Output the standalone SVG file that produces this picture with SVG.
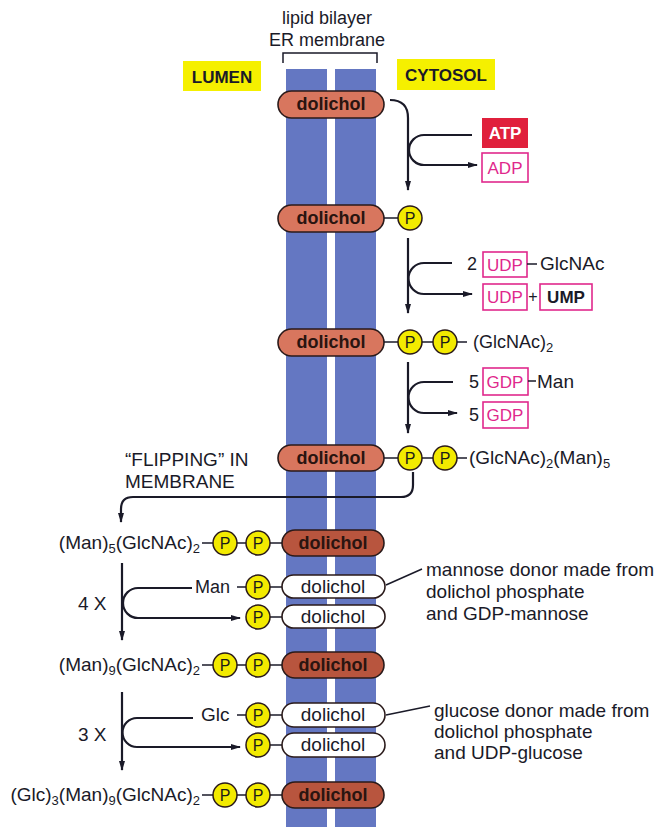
<svg xmlns="http://www.w3.org/2000/svg" width="661" height="827" viewBox="0 0 661 827">
<defs>
<style>
text{font-family:"Liberation Sans",Arial,sans-serif;fill:#1a1a28;font-size:18px}
.l{font-size:19px}
.b{font-weight:bold}
.c{text-anchor:middle}
.e{text-anchor:end}
.sub{font-size:13px}
.dol{fill:#d8765e;stroke:#2a1a1a;stroke-width:1.6}
.dol2{fill:#b8553e;stroke:#2a1a1a;stroke-width:1.6}
.dolw{fill:#ffffff;stroke:#2a1a1a;stroke-width:1.6}
.dt{font-weight:bold;font-size:18px;text-anchor:middle;fill:#2a1410}
.wt{font-size:19px;text-anchor:middle}
.p{fill:#f3ea00;stroke:#2a1a1a;stroke-width:1.5}
.pt{font-size:16px;text-anchor:middle;fill:#1a1a1a}
.ln{stroke:#1a1a28;stroke-width:1.5;fill:none}
.arr{stroke:#1a1a28;stroke-width:2.2;fill:none}
.box{fill:#ffffff;stroke:#e0288c;stroke-width:1.6}
.bt{fill:#e0288c;font-size:17px;text-anchor:middle}
.hl{fill:#f5f000}
.mem{fill:#6477c2}
</style>
<marker id="ah" viewBox="0 0 10 6" refX="9" refY="3" markerWidth="10" markerHeight="6" markerUnits="userSpaceOnUse" orient="auto">
<path d="M0,0 L10,3 L0,6 z" fill="#1a1a28"/>
</marker>
</defs>
<rect width="661" height="827" fill="#ffffff"/>

<g id="membrane">
<rect class="mem" x="286" y="69" width="41" height="758"/>
<rect class="mem" x="335" y="69" width="41" height="758"/>
<path class="ln" d="M283,63 V53 H377 V63"/>
<text class="c" x="327" y="24">lipid bilayer</text>
<text class="c" x="327" y="46">ER membrane</text>
</g>

<g id="lumen">
<rect class="hl" x="183" y="61" width="78" height="30"/>
<text class="b c" x="222" y="83" style="font-size:17px">LUMEN</text>
</g>
<g id="cytosol">
<rect class="hl" x="397" y="59" width="98" height="31"/>
<text class="b c" x="446" y="81" style="font-size:17px">CYTOSOL</text>
</g>

<g id="connectors">
<path class="arr" d="M390,100 Q408,100 408,118 V190" marker-end="url(#ah)"/>
<path class="arr" d="M472,135 H424 A15,15 0 0 0 424,165 H477" marker-end="url(#ah)"/>
<path class="arr" d="M408,238 V313" marker-end="url(#ah)"/>
<path class="arr" d="M452,263 H424 A15.5,15.5 0 0 0 424,294 H472" marker-end="url(#ah)"/>
<path class="arr" d="M408,362 V433" marker-end="url(#ah)"/>
<path class="arr" d="M453,382 H424 A15.5,15.5 0 0 0 424,413 H457" marker-end="url(#ah)"/>
<path class="arr" d="M413,472 V485 Q413,497 401,497 H133 Q121,497 121,509 V522" marker-end="url(#ah)"/>
<path class="arr" d="M122,563 V640" marker-end="url(#ah)"/>
<path class="arr" d="M192,588 H138 A15,15 0 0 0 138,618 H240" marker-end="url(#ah)"/>
<path class="arr" d="M122,692 V770" marker-end="url(#ah)"/>
<path class="arr" d="M193,718 H137 A14.5,14.5 0 0 0 137,747 H240" marker-end="url(#ah)"/>
<path class="ln" d="M386,585 L422,569"/>
<path class="ln" d="M386,715 L430,706"/>
</g>

<g id="atp">
<rect x="482" y="118" width="46" height="30" fill="#e0203c"/>
<text class="b c" x="505" y="139" style="font-size:17px;fill:#ffffff">ATP</text>
</g>
<g id="adp">
<rect class="box" x="482" y="153" width="46" height="29"/>
<text class="bt" x="505" y="174">ADP</text>
</g>

<g id="udp-glcnac">
<text x="467" y="270">2</text>
<rect class="box" x="483" y="252" width="44" height="25"/>
<text class="bt" x="505" y="271">UDP</text>
<line class="ln" x1="527" y1="264" x2="537" y2="264"/>
<text class="l" x="540" y="270">GlcNAc</text>
</g>
<g id="udp-ump">
<rect class="box" x="483" y="284" width="44" height="26"/>
<text class="bt" x="505" y="303">UDP</text>
<text class="c" x="533" y="302" style="font-size:16px">+</text>
<rect class="box" x="540" y="284" width="52" height="26"/>
<text class="b c" x="566" y="303" style="font-size:17px">UMP</text>
</g>
<g id="gdp-man">
<text x="469" y="388">5</text>
<rect class="box" x="483" y="368" width="45" height="27"/>
<text class="bt" x="505" y="388">GDP</text>
<line class="ln" x1="528" y1="381" x2="536" y2="381"/>
<text class="l" x="537" y="388">Man</text>
</g>
<g id="gdp">
<text x="469" y="421">5</text>
<rect class="box" x="483" y="402" width="45" height="26"/>
<text class="bt" x="505" y="421">GDP</text>
</g>

<g id="dolichol-1">
<rect class="dol" x="278" y="91" width="106" height="27" rx="13.5"/>
<text class="dt" x="331" y="110">dolichol</text>
</g>

<g id="dolichol-p">
<rect class="dol" x="278" y="205" width="106" height="27" rx="13.5"/>
<text class="dt" x="331" y="224">dolichol</text>
<line class="ln" x1="384" y1="218" x2="398" y2="218"/>
<circle class="p" cx="410" cy="218" r="12"/>
<text class="pt" x="410" y="224">P</text>
</g>

<g id="dolichol-pp-glcnac2">
<rect class="dol" x="278" y="329" width="106" height="27" rx="13.5"/>
<text class="dt" x="331" y="348">dolichol</text>
<line class="ln" x1="384" y1="342" x2="433" y2="342"/>
<circle class="p" cx="410" cy="342" r="12"/>
<text class="pt" x="410" y="348">P</text>
<circle class="p" cx="445" cy="342" r="12"/>
<text class="pt" x="445" y="348">P</text>
<line class="ln" x1="457" y1="342" x2="467" y2="342"/>
<text x="473" y="348">(GlcNAc)<tspan class="sub" dy="4">2</tspan></text>
</g>

<g id="dolichol-pp-glcnac2-man5">
<rect class="dol" x="278" y="445" width="106" height="26" rx="13"/>
<text class="dt" x="331" y="464">dolichol</text>
<line class="ln" x1="384" y1="458" x2="433" y2="458"/>
<circle class="p" cx="410" cy="458" r="12"/>
<text class="pt" x="410" y="464">P</text>
<circle class="p" cx="445" cy="458" r="12"/>
<text class="pt" x="445" y="464">P</text>
<line class="ln" x1="457" y1="458" x2="467" y2="458"/>
<text class="l" x="469" y="464">(GlcNAc)<tspan class="sub" dy="4">2</tspan><tspan dy="-4">(Man)</tspan><tspan class="sub" dy="4">5</tspan></text>
</g>

<g id="flipping-label">
<text class="l" x="125" y="466">“FLIPPING” IN</text>
<text class="l" x="125" y="488">MEMBRANE</text>
</g>

<g id="man5-glcnac2-pp-dolichol">
<text class="e l" x="200" y="549">(Man)<tspan class="sub" dy="4">5</tspan><tspan dy="-4">(GlcNAc)</tspan><tspan class="sub" dy="4">2</tspan></text>
<line class="ln" x1="202" y1="543" x2="282" y2="543"/>
<circle class="p" cx="225" cy="543" r="12"/>
<text class="pt" x="225" y="549">P</text>
<circle class="p" cx="258" cy="543" r="12"/>
<text class="pt" x="258" y="549">P</text>
<rect class="dol2" x="282" y="530" width="102" height="26" rx="13"/>
<text class="dt" x="333" y="549">dolichol</text>
</g>

<g id="label-4x"><text class="l" x="78" y="610">4 X</text></g>

<g id="man-p-dolichol">
<text x="195" y="593">Man</text>
<line class="ln" x1="237" y1="587" x2="282" y2="587"/>
<circle class="p" cx="258" cy="587" r="12"/>
<text class="pt" x="258" y="593">P</text>
<rect class="dolw" x="282" y="575" width="103" height="23" rx="11.5"/>
<text class="wt" x="333" y="593">dolichol</text>
</g>
<g id="p-dolichol-a">
<line class="ln" x1="270" y1="617" x2="282" y2="617"/>
<circle class="p" cx="258" cy="617" r="12"/>
<text class="pt" x="258" y="623">P</text>
<rect class="dolw" x="282" y="605" width="103" height="23" rx="11.5"/>
<text class="wt" x="333" y="623">dolichol</text>
</g>
<g id="mannose-note">
<text class="l" x="426" y="576">mannose donor made from</text>
<text class="l" x="426" y="598">dolichol phosphate</text>
<text class="l" x="426" y="620">and GDP-mannose</text>
</g>

<g id="man9-glcnac2-pp-dolichol">
<text class="e l" x="200" y="671">(Man)<tspan class="sub" dy="4">9</tspan><tspan dy="-4">(GlcNAc)</tspan><tspan class="sub" dy="4">2</tspan></text>
<line class="ln" x1="202" y1="665" x2="282" y2="665"/>
<circle class="p" cx="225" cy="665" r="12"/>
<text class="pt" x="225" y="671">P</text>
<circle class="p" cx="258" cy="665" r="12"/>
<text class="pt" x="258" y="671">P</text>
<rect class="dol2" x="282" y="652" width="102" height="26" rx="13"/>
<text class="dt" x="333" y="671">dolichol</text>
</g>

<g id="label-3x"><text class="l" x="78" y="741">3 X</text></g>

<g id="glc-p-dolichol">
<text class="l" x="201" y="721">Glc</text>
<line class="ln" x1="237" y1="715" x2="282" y2="715"/>
<circle class="p" cx="258" cy="715" r="12"/>
<text class="pt" x="258" y="721">P</text>
<rect class="dolw" x="282" y="703" width="103" height="24" rx="12"/>
<text class="wt" x="333" y="721">dolichol</text>
</g>
<g id="p-dolichol-b">
<line class="ln" x1="270" y1="745" x2="282" y2="745"/>
<circle class="p" cx="258" cy="745" r="12"/>
<text class="pt" x="258" y="751">P</text>
<rect class="dolw" x="282" y="733" width="103" height="24" rx="12"/>
<text class="wt" x="333" y="751">dolichol</text>
</g>
<g id="glucose-note">
<text class="l" x="434" y="717">glucose donor made from</text>
<text class="l" x="434" y="738">dolichol phosphate</text>
<text class="l" x="434" y="759">and UDP-glucose</text>
</g>

<g id="glc3-man9-glcnac2-pp-dolichol">
<text class="e l" x="200" y="801">(Glc)<tspan class="sub" dy="4">3</tspan><tspan dy="-4">(Man)</tspan><tspan class="sub" dy="4">9</tspan><tspan dy="-4">(GlcNAc)</tspan><tspan class="sub" dy="4">2</tspan></text>
<line class="ln" x1="202" y1="795" x2="282" y2="795"/>
<circle class="p" cx="225" cy="795" r="12"/>
<text class="pt" x="225" y="801">P</text>
<circle class="p" cx="258" cy="795" r="12"/>
<text class="pt" x="258" y="801">P</text>
<rect class="dol2" x="282" y="782" width="102" height="26" rx="13"/>
<text class="dt" x="333" y="801">dolichol</text>
</g>
</svg>
